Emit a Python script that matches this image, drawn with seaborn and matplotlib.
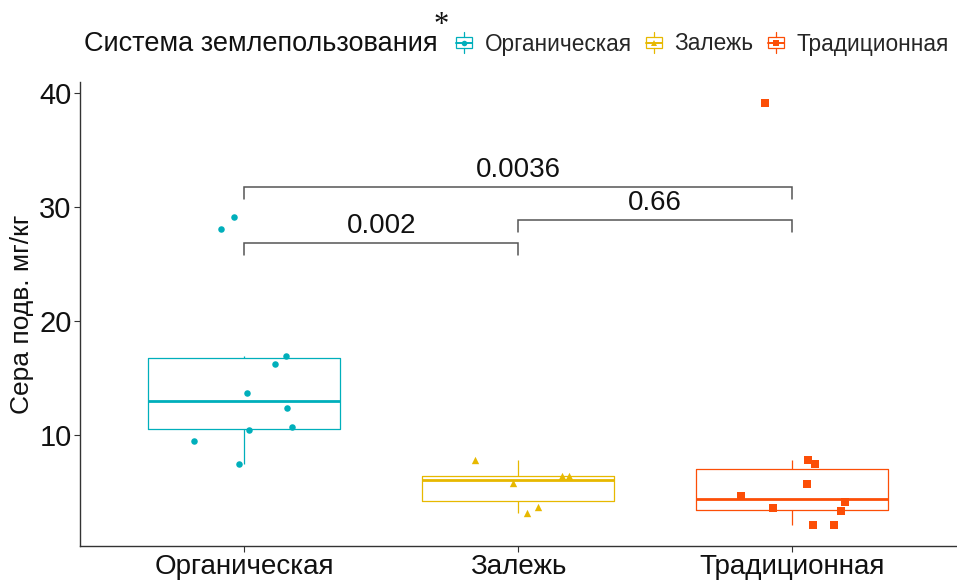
import matplotlib
matplotlib.use("Agg")
import numpy as np
import pandas as pd
import matplotlib.pyplot as plt
import seaborn as sns
from matplotlib.legend_handler import HandlerBase
from matplotlib.patches import Rectangle
from matplotlib.lines import Line2D

# Land-use systems and their colours / point shapes
categories = ["Органическая", "Залежь", "Традиционная"]
colors = ["#00AFBB", "#E7B800", "#FC4E07"]
markers = ["o", "^", "s"]

# Available sulphur, mg/kg, per plot
organic = [28.1, 29.2, 17.0, 16.3, 13.7, 12.4, 10.5, 10.7, 9.5, 7.5]
fallow = [7.8, 5.8, 6.4, 6.4, 3.2, 3.7]
traditional = [7.8, 7.5, 5.7, 4.7, 4.2, 3.6, 3.4, 2.1, 2.1, 39.2]

# Horizontal jitter of each point within its group
organic_dx = [-0.084, -0.036, 0.153, 0.113, 0.011, 0.157, 0.018, 0.175, -0.182, -0.018]
fallow_dx = [-0.157, -0.018, 0.161, 0.186, 0.033, 0.073]
traditional_dx = [0.058, 0.084, 0.055, -0.186, 0.193, -0.069, 0.179, 0.077, 0.153, -0.099]

# Pairwise comparisons: group a, group b, p-value label, bracket level
comparisons = [
    ("Органическая", "Залежь", "0.002", 26.9),
    ("Залежь", "Традиционная", "0.66", 28.9),
    ("Органическая", "Традиционная", "0.0036", 31.8),
]

values = [organic, fallow, traditional]
offsets = [organic_dx, fallow_dx, traditional_dx]
rows = []
for i, (cat, vals, dxs) in enumerate(zip(categories, values, offsets)):
    for v, dx in zip(vals, dxs):
        rows.append({"group": cat, "value": v, "xpos": i + dx})
df = pd.DataFrame(rows)

sns.set_style("white")
plt.rcParams["font.family"] = ["Liberation Sans", "DejaVu Sans"]

fig = plt.figure(figsize=(9.57, 5.82), dpi=100)
ax = fig.add_axes([80 / 957, 1 - 546 / 582, 877 / 957 - 0.0005, 464 / 582])

palette = dict(zip(categories, colors))
sns.boxplot(data=df, x="group", y="value", hue="group", order=categories,
            hue_order=categories, palette=palette, fill=False, width=0.7,
            showfliers=False, whis=1.5, linewidth=0.9, legend=False,
            medianprops={"linewidth": 2.0}, capprops={"linewidth": 0},
            ax=ax)

for cat, col, mk in zip(categories, colors, markers):
    sub = df[df["group"] == cat]
    ax.scatter(sub["xpos"], sub["value"], color=col, marker=mk,
               s=28 if mk != "o" else 22, linewidths=0, zorder=5)

# Comparison brackets with p-values
tip = 1.05
for a, b, label, level in comparisons:
    xa, xb = categories.index(a), categories.index(b)
    ax.plot([xa, xa, xb, xb], [level - tip, level, level, level - tip],
            color="#555555", linewidth=1.1, solid_joinstyle="miter", zorder=4)
    ax.text((xa + xb) / 2, level + 0.35, label, ha="center", va="bottom",
            fontsize=20, color="#111111")

ax.set_xlim(-0.6, 2.6)
ax.set_ylim(0.3, 41.0)
ax.set_yticks([10, 20, 30, 40])
ax.set_xlabel("")
ax.set_ylabel("Сера подв. мг/кг", fontsize=19, color="#111111", labelpad=4)
ax.tick_params(axis="x", labelsize=20, labelcolor="#111111", pad=2)
ax.tick_params(axis="y", labelsize=21, labelcolor="#111111", pad=2)
ax.tick_params(axis="both", length=4, width=0.8, color="#333333",
               left=True, bottom=True)
for side in ["top", "right"]:
    ax.spines[side].set_visible(False)
for side in ["left", "bottom"]:
    ax.spines[side].set_color("#333333")
    ax.spines[side].set_linewidth(1.0)


class BoxKeyHandler(HandlerBase):
    def __init__(self, color, marker):
        super().__init__()
        self.color = color
        self.marker = marker

    def create_artists(self, legend, orig_handle, xdescent, ydescent, width,
                       height, fontsize, trans):
        cx = width / 2 - xdescent
        cy = height / 2 - ydescent
        bw, bh = width * 0.8, height * 0.7
        artists = [
            Rectangle((cx - bw / 2, cy - bh / 2), bw, bh, fill=False,
                      edgecolor=self.color, linewidth=0.9, transform=trans),
            Line2D([cx - bw / 2, cx + bw / 2], [cy, cy], color=self.color,
                   linewidth=1.4, transform=trans),
            Line2D([cx, cx], [cy + bh / 2, cy + height * 0.65], color=self.color,
                   linewidth=0.9, transform=trans),
            Line2D([cx, cx], [cy - bh / 2, cy - height * 0.65], color=self.color,
                   linewidth=0.9, transform=trans),
            Line2D([cx], [cy], marker=self.marker, markersize=4, color=self.color,
                   markeredgewidth=0, linestyle="none", transform=trans),
        ]
        return artists


handles = [Rectangle((0, 0), 1, 1) for _ in categories]
handler_map = {h: BoxKeyHandler(c, m) for h, c, m in zip(handles, colors, markers)}
fig.legend(handles, categories, handler_map=handler_map, ncol=3,
           loc="center left", bbox_to_anchor=(454 / 957, 1 - 44 / 582),
           frameon=False, fontsize=16.3, handlelength=0.9, handleheight=0.7,
           handletextpad=0.45, columnspacing=0.55, borderpad=0,
           borderaxespad=0)
fig.text(84 / 957, 1 - 44 / 582, "Система землепользования", ha="left",
         va="center", fontsize=19.5, color="#111111")
fig.text(441 / 957, 1 - 25 / 582, "*", ha="center", va="center",
         fontsize=22, family="Liberation Serif", color="#111111")

fig.savefig("out.png", dpi=100, facecolor="white")
